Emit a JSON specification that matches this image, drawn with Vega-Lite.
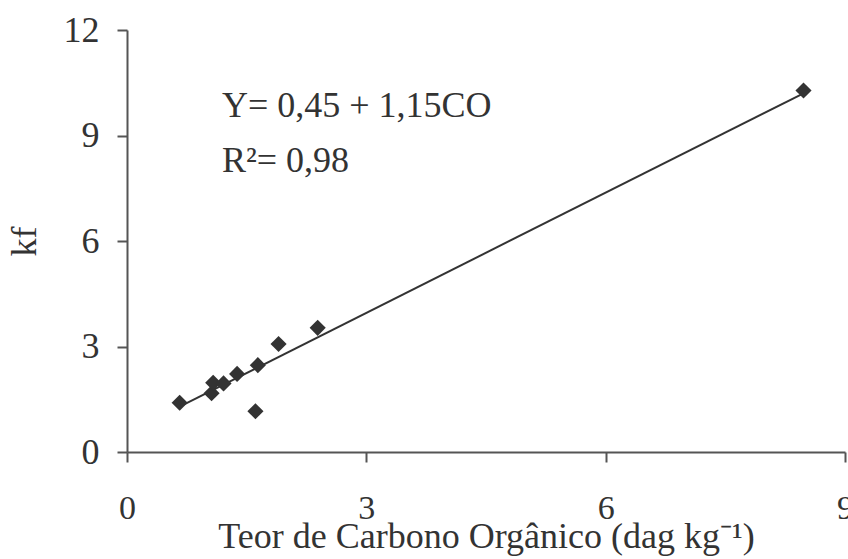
{
  "$schema": "https://vega.github.io/schema/vega-lite/v6.json",
  "autosize": "none",
  "width": 718,
  "height": 422,
  "padding": {"left": 127, "top": 30, "right": 3, "bottom": 107},
  "background": "white",
  "config": {
    "view": {"stroke": null},
    "font": "Liberation Serif",
    "axis": {
      "grid": false,
      "domainColor": "#555555",
      "domainWidth": 2,
      "tickColor": "#555555",
      "tickWidth": 2,
      "tickSize": 10,
      "labelFont": "Liberation Serif",
      "labelColor": "#333333",
      "titleFont": "Liberation Serif",
      "titleFontWeight": "normal",
      "titleColor": "#333333"
    }
  },
  "datasets": {
    "points": [
      {"co": 0.66, "kf": 1.40},
      {"co": 1.06, "kf": 1.67},
      {"co": 1.08, "kf": 1.97},
      {"co": 1.21, "kf": 1.95},
      {"co": 1.38, "kf": 2.22},
      {"co": 1.61, "kf": 1.16},
      {"co": 1.64, "kf": 2.47},
      {"co": 1.90, "kf": 3.07},
      {"co": 2.39, "kf": 3.53},
      {"co": 8.48, "kf": 10.28}
    ],
    "fit": [
      {"co": 0.66, "kf": 1.29},
      {"co": 8.48, "kf": 10.20}
    ],
    "notes": [
      {"co": 1.19, "kf": 9.52, "label": "Y= 0,45 + 1,15CO"},
      {"co": 1.19, "kf": 7.95, "label": "R²= 0,98"}
    ]
  },
  "layer": [
    {
      "data": {"name": "fit"},
      "mark": {"type": "line", "color": "#333333", "strokeWidth": 2},
      "encoding": {
        "x": {
          "field": "co", "type": "quantitative",
          "scale": {"domain": [0, 9], "nice": false, "zero": false},
          "axis": {
            "values": [0, 3, 6, 9],
            "format": "d",
            "labelFont": "Liberation Serif",
            "labelFontSize": 34,
            "labelPadding": 29,
            "titleFont": "Liberation Serif",
            "titleFontSize": 36,
            "titlePadding": -6,
            "title": "Teor de Carbono Orgânico (dag kg⁻¹)",
            "labelFlush": false,
            "labelOverlap": false
          }
        },
        "y": {
          "field": "kf", "type": "quantitative",
          "scale": {"domain": [0, 12], "nice": false},
          "axis": {
            "values": [0, 3, 6, 9, 12],
            "format": "d",
            "labelFont": "Liberation Serif",
            "labelFontSize": 36,
            "labelPadding": 18,
            "titleFont": "Liberation Serif",
            "titleFontSize": 36,
            "titlePadding": 20,
            "title": "kf",
            "labelFlush": false,
            "labelOverlap": false
          }
        }
      }
    },
    {
      "data": {"name": "points"},
      "mark": {"type": "point", "shape": "diamond", "filled": true, "color": "#333333", "size": 260, "opacity": 1},
      "encoding": {
        "x": {"field": "co", "type": "quantitative"},
        "y": {"field": "kf", "type": "quantitative"}
      }
    },
    {
      "data": {"name": "notes"},
      "mark": {"type": "text", "align": "left", "baseline": "alphabetic", "font": "Liberation Serif", "fontSize": 36, "color": "#333333"},
      "encoding": {
        "x": {"field": "co", "type": "quantitative"},
        "y": {"field": "kf", "type": "quantitative"},
        "text": {"field": "label"}
      }
    }
  ]
}
